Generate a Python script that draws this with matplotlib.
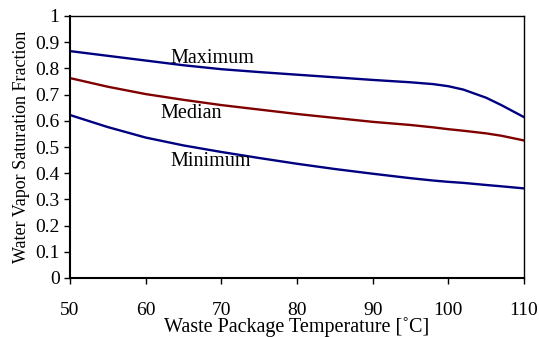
import matplotlib
matplotlib.use('Agg')
import matplotlib.pyplot as plt

# values
temp = [50, 55, 60, 65, 70, 75, 80, 85, 90, 95, 98, 100, 102, 105, 107, 110]
maximum = [0.866, 0.848, 0.830, 0.812, 0.797, 0.786, 0.776, 0.766, 0.756, 0.747, 0.740, 0.732, 0.719, 0.688, 0.660, 0.614]
median = [0.763, 0.730, 0.702, 0.680, 0.660, 0.643, 0.626, 0.611, 0.596, 0.584, 0.575, 0.568, 0.562, 0.552, 0.543, 0.525]
minimum = [0.622, 0.576, 0.536, 0.506, 0.481, 0.458, 0.436, 0.416, 0.398, 0.381, 0.372, 0.367, 0.363, 0.355, 0.350, 0.342]

xticks = [50, 60, 70, 80, 90, 100, 110]
yticks = [0, 0.1, 0.2, 0.3, 0.4, 0.5, 0.6, 0.7, 0.8, 0.9, 1]

plt.rcParams['font.family'] = ['Liberation Serif', 'DejaVu Serif']

fig = plt.figure(figsize=(5.39, 3.37), dpi=100)
ax = fig.add_axes([70 / 539, 1 - 278 / 337, 454 / 539, 262 / 337])

ax.plot(temp, maximum, color='#000080', lw=1.7)
ax.plot(temp, median, color='#800000', lw=1.7)
ax.plot(temp, minimum, color='#000080', lw=1.7)

ax.text(63.3, 0.836, 'Maximum', fontsize=14.5, ha='left', va='center')
ax.text(61.9, 0.626, 'Median', fontsize=14.5, ha='left', va='center')
ax.text(63.3, 0.443, 'Minimum', fontsize=14.5, ha='left', va='center')

ax.set_xlim(50, 110)
ax.set_ylim(0, 1)
ax.set_xticks(xticks)
ax.set_yticks(yticks)
ax.set_yticklabels([('%g' % v) for v in yticks])
ax.tick_params(direction='out', length=4, width=1, labelsize=14)
ax.tick_params(axis='x', pad=13)
for s in ax.spines.values():
    s.set_linewidth(1)
ax.spines['left'].set_linewidth(1.5)
ax.spines['bottom'].set_linewidth(1.5)

ax.set_xlabel('Waste Package Temperature [˚C]', fontsize=14.5, labelpad=-1)
ax.set_ylabel('Water Vapor Saturation Fraction', fontsize=13, labelpad=4)

fig.savefig('out.png', dpi=100)
